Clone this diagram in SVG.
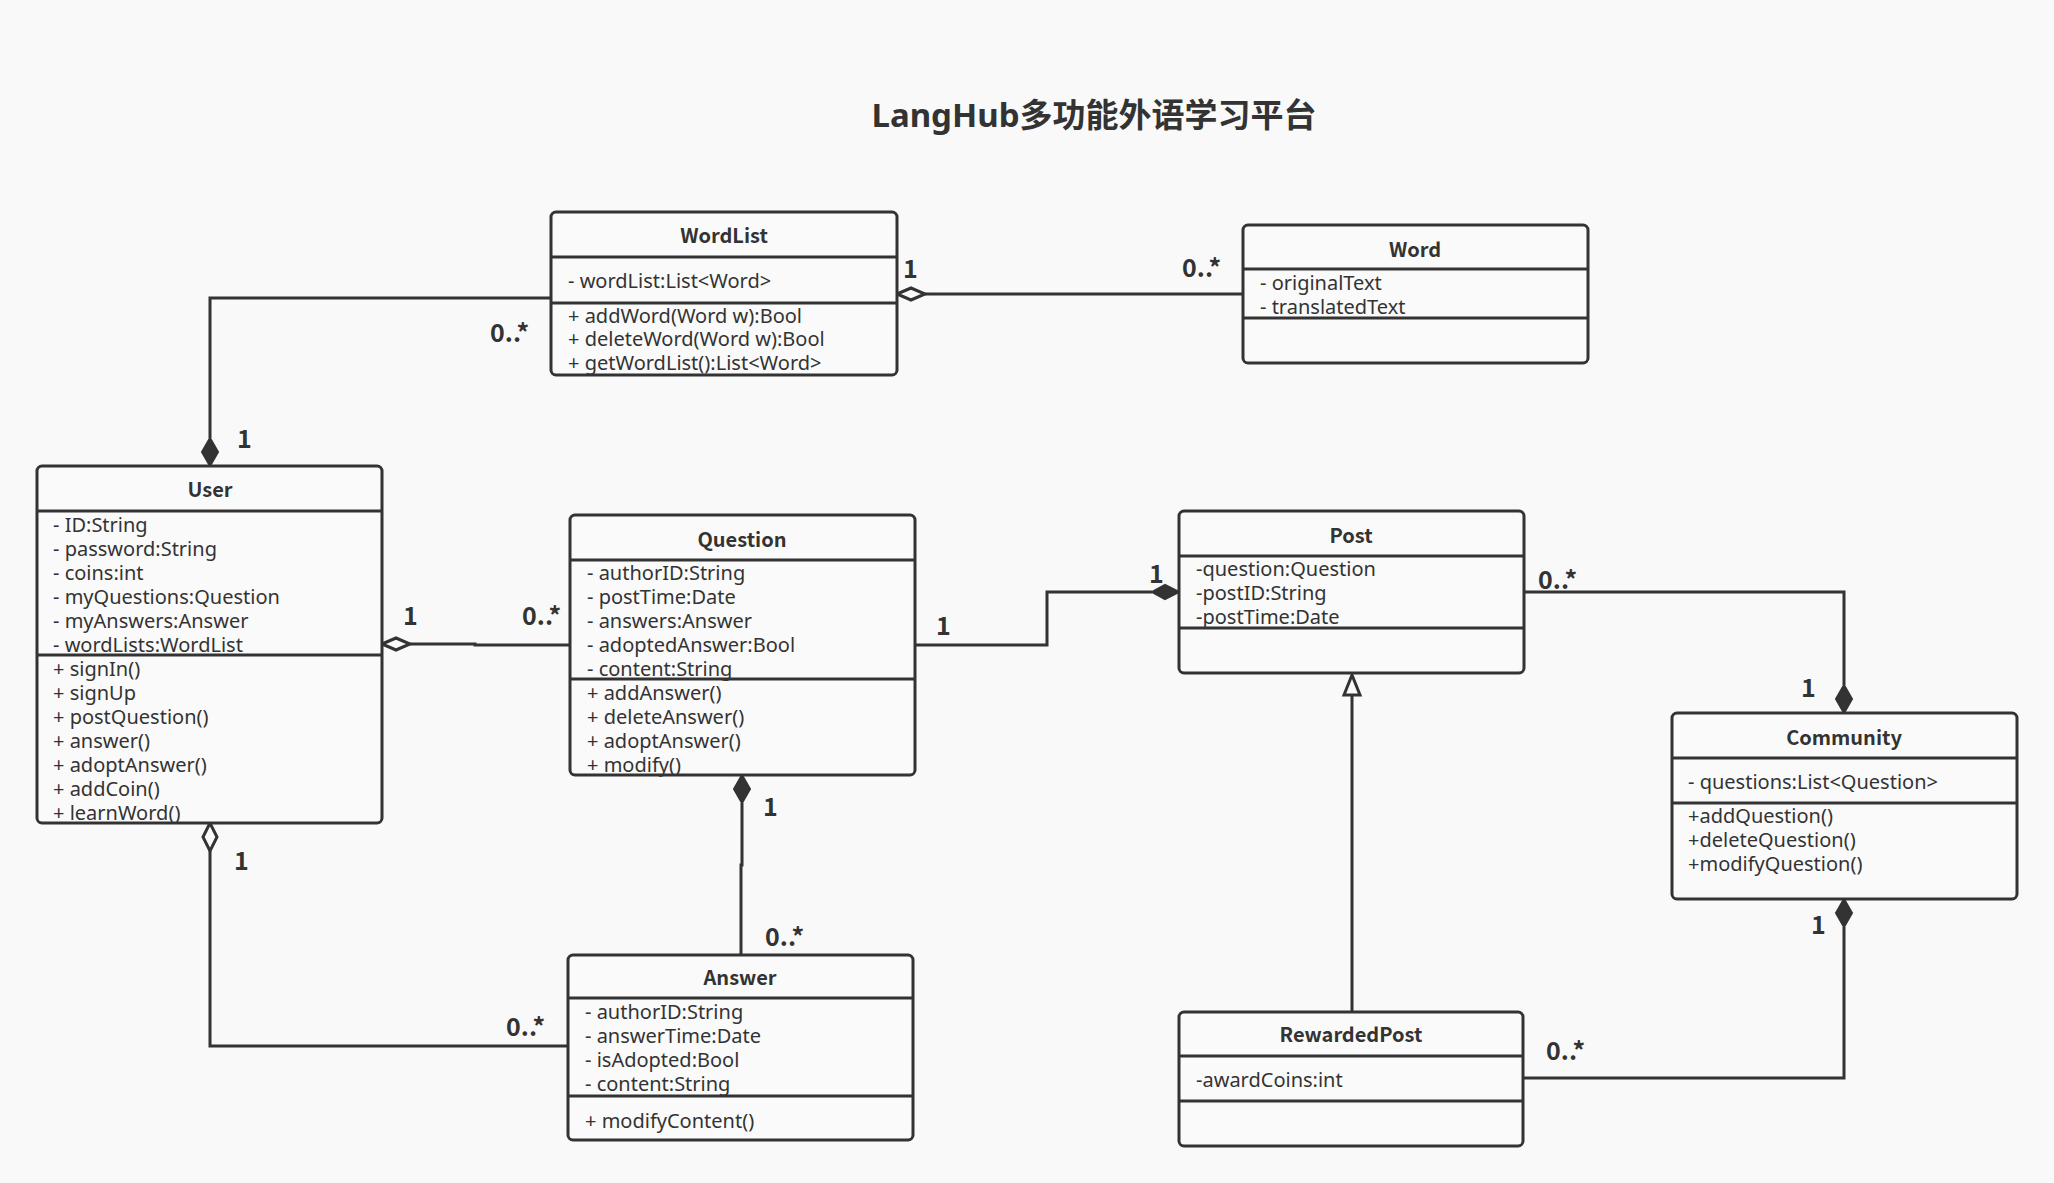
<svg xmlns="http://www.w3.org/2000/svg" width="2054" height="1183" viewBox="0 0 2054 1183">
<defs>
<style>
.box{fill:#fafafa;stroke:#333;stroke-width:3}
.div{stroke:#333;stroke-width:3}
.hd{font-family:"Noto Sans CJK SC","Noto Sans",sans-serif;font-weight:bold;font-size:20px;fill:#333;text-anchor:middle}
.t{font-family:"Noto Sans","Noto Sans CJK SC",sans-serif;font-size:20px;fill:#333}
.lb{font-family:"Noto Sans CJK SC","Noto Sans",sans-serif;font-weight:bold;font-size:25px;fill:#333}
.ln{fill:none;stroke:#333;stroke-width:3}
.fd{fill:#333;stroke:#333;stroke-width:2}
.hdm{fill:#fafafa;stroke:#333;stroke-width:3}
</style>
</defs>
<rect width="2054" height="1183" fill="#f9f9f9"/>
<text x="1094" y="127" font-family="'Noto Sans','Noto Sans CJK SC',sans-serif" font-weight="bold" font-size="33" fill="#333" text-anchor="middle">LangHub多功能外语学习平台</text>

<g id="connectors">
<!-- User - WordList -->
<polyline class="ln" points="210,438 210,298 551,298"/>
<polygon class="fd" points="210,466 202,452 210,438 218,452"/>
<!-- WordList - Word -->
<line class="ln" x1="925" y1="294" x2="1243" y2="294"/>
<polygon class="hdm" points="897,294 911,288 925,294 911,300"/>
<!-- User - Question -->
<polyline class="ln" points="410,644 475,644 475,645 570,645"/>
<polygon class="hdm" points="382,644 396,638 410,644 396,650"/>
<!-- Question - Post -->
<polyline class="ln" points="915,645 1047,645 1047,592 1152,592"/>
<polygon class="fd" points="1179,592 1165,585 1152,592 1165,599"/>
<!-- Post - Community -->
<polyline class="ln" points="1524,592 1844,592 1844,685"/>
<polygon class="fd" points="1844,713 1836,699 1844,685 1852,699"/>
<!-- Question - Answer -->
<polyline class="ln" points="742,803 742,865 741,865 741,955"/>
<polygon class="fd" points="742,775 734,789 742,803 750,789"/>
<!-- User - Answer -->
<polyline class="ln" points="210,851 210,1046 568,1046"/>
<polygon class="hdm" points="210,823 203,837 210,851 217,837"/>
<!-- RewardedPost - Post -->
<line class="ln" x1="1352" y1="695" x2="1352" y2="1012"/>
<polygon class="hdm" points="1352,675 1344,695 1360,695"/>
<!-- RewardedPost - Community -->
<polyline class="ln" points="1523,1078 1844,1078 1844,927"/>
<polygon class="fd" points="1844,899 1836,913 1844,927 1852,913"/>

<text class="lb" x="490" y="342">0..*</text>
<text class="lb" x="237" y="448">1</text>
<text class="lb" x="903" y="278">1</text>
<text class="lb" x="1182" y="277">0..*</text>
<text class="lb" x="403" y="625">1</text>
<text class="lb" x="522" y="625">0..*</text>
<text class="lb" x="936" y="635">1</text>
<text class="lb" x="1149" y="583">1</text>
<text class="lb" x="1538" y="589">0..*</text>
<text class="lb" x="1801" y="697">1</text>
<text class="lb" x="763" y="816">1</text>
<text class="lb" x="765" y="946">0..*</text>
<text class="lb" x="234" y="870">1</text>
<text class="lb" x="506" y="1036">0..*</text>
<text class="lb" x="1546" y="1060">0..*</text>
<text class="lb" x="1811" y="934">1</text>
</g>

<g id="WordList">
<rect class="box" x="551" y="212" width="346" height="163" rx="5"/>
<line class="div" x1="551" y1="257" x2="897" y2="257"/>
<line class="div" x1="551" y1="303" x2="897" y2="303"/>
<text class="hd" x="724" y="243">WordList</text>
<text class="t" x="568" y="288">- wordList:List&lt;Word&gt;</text>
<text class="t" x="568" y="323">+ addWord(Word w):Bool</text>
<text class="t" x="568" y="346">+ deleteWord(Word w):Bool</text>
<text class="t" x="568" y="370">+ getWordList():List&lt;Word&gt;</text>
</g>

<g id="Word">
<rect class="box" x="1243" y="225" width="345" height="138" rx="5"/>
<line class="div" x1="1243" y1="269" x2="1588" y2="269"/>
<line class="div" x1="1243" y1="318" x2="1588" y2="318"/>
<text class="hd" x="1415" y="257">Word</text>
<text class="t" x="1260" y="290">- originalText</text>
<text class="t" x="1260" y="314">- translatedText</text>
</g>

<g id="User">
<rect class="box" x="37" y="466" width="345" height="357" rx="5"/>
<line class="div" x1="37" y1="511" x2="382" y2="511"/>
<line class="div" x1="37" y1="655" x2="382" y2="655"/>
<text class="hd" x="210" y="497">User</text>
<text class="t" x="53" y="532">- ID:String</text>
<text class="t" x="53" y="556">- password:String</text>
<text class="t" x="53" y="580">- coins:int</text>
<text class="t" x="53" y="604">- myQuestions:Question</text>
<text class="t" x="53" y="628">- myAnswers:Answer</text>
<text class="t" x="53" y="652">- wordLists:WordList</text>
<text class="t" x="53" y="676">+ signIn()</text>
<text class="t" x="53" y="700">+ signUp</text>
<text class="t" x="53" y="724">+ postQuestion()</text>
<text class="t" x="53" y="748">+ answer()</text>
<text class="t" x="53" y="772">+ adoptAnswer()</text>
<text class="t" x="53" y="796">+ addCoin()</text>
<text class="t" x="53" y="820">+ learnWord()</text>
</g>

<g id="Question">
<rect class="box" x="570" y="515" width="345" height="260" rx="5"/>
<line class="div" x1="570" y1="560" x2="915" y2="560"/>
<line class="div" x1="570" y1="679" x2="915" y2="679"/>
<text class="hd" x="742" y="547">Question</text>
<text class="t" x="587" y="580">- authorID:String</text>
<text class="t" x="587" y="604">- postTime:Date</text>
<text class="t" x="587" y="628">- answers:Answer</text>
<text class="t" x="587" y="652">- adoptedAnswer:Bool</text>
<text class="t" x="587" y="676">- content:String</text>
<text class="t" x="587" y="700">+ addAnswer()</text>
<text class="t" x="587" y="724">+ deleteAnswer()</text>
<text class="t" x="587" y="748">+ adoptAnswer()</text>
<text class="t" x="587" y="772">+ modify()</text>
</g>

<g id="Post">
<rect class="box" x="1179" y="511" width="345" height="162" rx="5"/>
<line class="div" x1="1179" y1="556" x2="1524" y2="556"/>
<line class="div" x1="1179" y1="628" x2="1524" y2="628"/>
<text class="hd" x="1351" y="543">Post</text>
<text class="t" x="1196" y="576">-question:Question</text>
<text class="t" x="1196" y="600">-postID:String</text>
<text class="t" x="1196" y="624">-postTime:Date</text>
</g>

<g id="Community">
<rect class="box" x="1672" y="713" width="345" height="186" rx="5"/>
<line class="div" x1="1672" y1="758" x2="2017" y2="758"/>
<line class="div" x1="1672" y1="803" x2="2017" y2="803"/>
<text class="hd" x="1844" y="745">Community</text>
<text class="t" x="1688" y="789">- questions:List&lt;Question&gt;</text>
<text class="t" x="1688" y="823">+addQuestion()</text>
<text class="t" x="1688" y="847">+deleteQuestion()</text>
<text class="t" x="1688" y="871">+modifyQuestion()</text>
</g>

<g id="Answer">
<rect class="box" x="568" y="955" width="345" height="185" rx="5"/>
<line class="div" x1="568" y1="998" x2="913" y2="998"/>
<line class="div" x1="568" y1="1096" x2="913" y2="1096"/>
<text class="hd" x="740" y="985">Answer</text>
<text class="t" x="585" y="1019">- authorID:String</text>
<text class="t" x="585" y="1043">- answerTime:Date</text>
<text class="t" x="585" y="1067">- isAdopted:Bool</text>
<text class="t" x="585" y="1091">- content:String</text>
<text class="t" x="585" y="1128">+ modifyContent()</text>
</g>

<g id="RewardedPost">
<rect class="box" x="1179" y="1012" width="344" height="134" rx="5"/>
<line class="div" x1="1179" y1="1056" x2="1523" y2="1056"/>
<line class="div" x1="1179" y1="1101" x2="1523" y2="1101"/>
<text class="hd" x="1351" y="1042">RewardedPost</text>
<text class="t" x="1196" y="1087">-awardCoins:int</text>
</g>
</svg>
